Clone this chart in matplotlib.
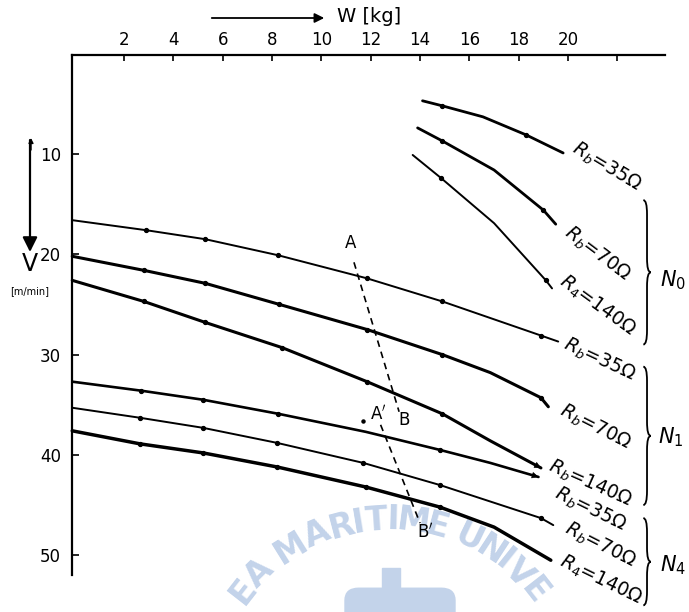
import numpy as np
import matplotlib
matplotlib.use("Agg")
import matplotlib.pyplot as plt
from matplotlib.path import Path
from matplotlib.patches import PathPatch, Rectangle, FancyBboxPatch
from matplotlib.font_manager import FontProperties
from matplotlib.textpath import TextPath

# W [kg] / V [m/min]
# group N0 (short curves, upper right)
w_n0_35 = [14.1, 14.9, 16.55, 18.3, 19.8]
v_n0_35 = [4.7, 5.2, 6.3, 8.1, 9.9]
w_n0_70 = [13.9, 14.9, 17.0, 19.0, 19.5]
v_n0_70 = [7.4, 8.7, 11.6, 15.6, 17.0]
w_n0_140 = [13.7, 14.85, 17.0, 19.1, 19.35]
v_n0_140 = [10.1, 12.4, 16.9, 22.6, 23.4]

# group N1
w_n1_35 = [-0.1, 2.9, 5.3, 8.25, 11.85, 14.9, 18.9, 19.6]
v_n1_35 = [16.6, 17.6, 18.5, 20.1, 22.4, 24.7, 28.1, 28.7]
w_n1_70 = [-0.1, 2.8, 5.3, 8.3, 11.85, 14.9, 16.85, 18.9, 19.2]
v_n1_70 = [20.2, 21.6, 22.9, 25.0, 27.5, 30.0, 31.8, 34.3, 35.2]
w_n1_140 = [-0.1, 2.8, 5.3, 8.4, 11.85, 14.9, 16.85, 18.9]
v_n1_140 = [22.6, 24.7, 26.8, 29.3, 32.7, 35.9, 38.6, 41.3]

# group N4
w_n4_35 = [-0.1, 2.7, 5.2, 8.25, 11.8, 14.8, 16.85, 18.8]
v_n4_35 = [32.7, 33.6, 34.5, 35.9, 37.7, 39.5, 40.8, 42.2]
w_n4_70 = [-0.1, 2.65, 5.2, 8.2, 11.7, 14.8, 18.9, 19.4]
v_n4_70 = [35.3, 36.3, 37.3, 38.8, 40.8, 43.0, 46.3, 47.0]
w_n4_140 = [-0.1, 2.65, 5.2, 8.2, 11.8, 14.8, 17.0, 19.3]
v_n4_140 = [37.6, 38.9, 39.8, 41.2, 43.2, 45.2, 47.2, 50.5]

# dashed construction lines
w_ab = [11.32, 13.15]
v_ab = [20.8, 35.7]
w_ab2 = [12.4, 14.0]
v_ab2 = [37.0, 46.8]

x_ticks = [2, 4, 6, 8, 10, 12, 14, 16, 18, 20, 22]
x_ticklabels = ["2", "4", "6", "8", "10", "12", "14", "16", "18", "20", ""]
y_ticks = [10, 20, 30, 40, 50]

fig = plt.figure(figsize=(6.89, 6.12), dpi=100)

# faint watermark behind the chart, letters spaced by their own widths along an arc
wm_color = "#c3d3ea"
wm_text = "EA MARITIME UNIVE"
wm_font = FontProperties(family="DejaVu Sans", weight="bold", size=24)
widths = []
for ch in wm_text:
    if ch == " ":
        widths.append(9.0)
    else:
        widths.append(TextPath((0, 0), ch, prop=wm_font).get_extents().width + 3)
widths = np.array(widths)
centers = np.cumsum(widths) - widths / 2
centers = centers - centers[0]
angles = 142 - 104 * centers / centers[-1]
for ch, a in zip(wm_text, angles):
    ang = np.radians(a)
    px = 389 + 185 * np.cos(ang)
    py = 705 - 185 * np.sin(ang)
    fig.text(px / 689, 1 - py / 612, ch, rotation=a - 90, ha="center", va="center",
             fontproperties=wm_font, color=wm_color, zorder=-5)
fig.add_artist(Rectangle((382 / 689, 0), 18 / 689, 44 / 612, color=wm_color,
                         transform=fig.transFigure, zorder=-5))
fig.add_artist(FancyBboxPatch((345 / 689, -0.02), 110 / 689, 36 / 612,
                              boxstyle="round,pad=0,rounding_size=0.02",
                              color=wm_color, transform=fig.transFigure, zorder=-5))

ax = fig.add_axes([0.1045, 0.0605, 0.8607, 0.8497])
ax.set_facecolor("none")
ax.set_xlim(-0.11, 23.93)
ax.set_ylim(51.97, 0.13)
for s in ["right", "bottom"]:
    ax.spines[s].set_visible(False)
for s in ["top", "left"]:
    ax.spines[s].set_linewidth(1.6)

ax.xaxis.tick_top()
ax.set_xticks(x_ticks)
ax.set_xticklabels(x_ticklabels)
ax.set_yticks(y_ticks)
ax.tick_params(axis="x", direction="in", length=4, width=1.2, pad=4, labelsize=12)
ax.tick_params(axis="y", direction="in", length=5, width=1.2, pad=8, labelsize=12)

curves = [
    (w_n0_35, v_n0_35, [1, 3], 2.0),
    (w_n0_70, v_n0_70, [1, 3], 2.0),
    (w_n0_140, v_n0_140, [1, 3], 1.4),
    (w_n1_35, v_n1_35, [1, 2, 3, 4, 5, 6], 1.4),
    (w_n1_70, v_n1_70, [1, 2, 3, 4, 5, 7], 2.2),
    (w_n1_140, v_n1_140, [1, 2, 3, 4, 5], 2.2),
    (w_n4_35, v_n4_35, [1, 2, 3, 5], 1.9),
    (w_n4_70, v_n4_70, [1, 2, 3, 4, 5, 6], 1.4),
    (w_n4_140, v_n4_140, [1, 2, 3, 4, 5], 2.5),
]
for w, v, dots, lw in curves:
    w = np.array(w)
    v = np.array(v)
    ax.plot(w, v, color="k", lw=lw, solid_capstyle="round", clip_on=False)
    ax.plot(w[dots], v[dots], "o", ms=2.8, color="k")

# small arrow heads at the ends of two N1/N4 curves
for w, v in [(w_n1_140, v_n1_140), (w_n4_35, v_n4_35)]:
    ax.annotate("", xy=(w[-1], v[-1]), xytext=(w[-2], v[-2]),
                arrowprops=dict(arrowstyle="-|>", mutation_scale=10, color="k",
                                lw=0.5, shrinkA=0, shrinkB=0))

ax.plot(w_ab, v_ab, color="k", lw=1.2, ls=(0, (4, 3)))
ax.plot(w_ab2, v_ab2, color="k", lw=1.2, ls=(0, (4, 3)))
ax.plot([11.7], [36.6], "o", ms=2.2, color="k")
ax.text(11.2, 18.9, "A", fontsize=12, ha="center", va="center")
ax.text(13.36, 36.5, "B", fontsize=12, ha="center", va="center")
ax.text(12.3, 35.9, "A$'$", fontsize=12, ha="center", va="center")
ax.text(14.2, 47.7, "B$'$", fontsize=12, ha="center", va="center")

# curve labels
labels = [
    (21.57, 11.3, r"$R_b$=35Ω", -31),
    (21.17, 19.9, r"$R_b$=70Ω", -37),
    (21.17, 25.1, r"$R_4$=140Ω", -36),
    (21.29, 30.5, r"$R_b$=35Ω", -25),
    (21.09, 37.2, r"$R_b$=70Ω", -27),
    (20.89, 42.8, r"$R_b$=140Ω", -24),
    (20.89, 45.4, r"$R_b$=35Ω", -26),
    (21.29, 49.0, r"$R_b$=70Ω", -27),
    (21.33, 52.5, r"$R_4$=140Ω", -26),
]
for x, y, t, rot in labels:
    ax.text(x, y, t, rotation=rot, ha="center", va="center", fontsize=13.5,
            rotation_mode="anchor")


def draw_brace(ax, x, y0, y1, w=0.3, h=1.4):
    ym = (y0 + y1) / 2
    xm = x + w / 2
    verts = [(x, y0), (xm, y0), (xm, y0 + h), (xm, ym - h), (xm, ym), (x + w, ym),
             (xm, ym), (xm, ym + h), (xm, y1 - h), (xm, y1), (x, y1)]
    codes = [Path.MOVETO, Path.CURVE3, Path.CURVE3, Path.LINETO, Path.CURVE3,
             Path.CURVE3, Path.CURVE3, Path.CURVE3, Path.LINETO, Path.CURVE3,
             Path.CURVE3]
    ax.add_patch(PathPatch(Path(verts, codes), fill=False, lw=1.3, clip_on=False))


draw_brace(ax, 23.05, 14.6, 29.0)
draw_brace(ax, 23.05, 31.2, 45.0)
draw_brace(ax, 23.05, 46.3, 55.0)
ax.text(24.25, 22.6, "$N_0$", fontsize=15, ha="center", va="center")
ax.text(24.15, 38.2, "$N_1$", fontsize=15, ha="center", va="center")
ax.text(24.25, 51.0, "$N_4$", fontsize=15, ha="center", va="center")

# axis titles with arrows
fig.text(337 / 689, 1 - 16 / 612, "W [kg]", fontsize=14, va="center")
ax.annotate("", xy=(327 / 689, 1 - 18 / 612), xytext=(209 / 689, 1 - 18 / 612),
            xycoords="figure fraction", textcoords="figure fraction",
            arrowprops=dict(arrowstyle="-|>", mutation_scale=14, lw=1.3, color="k"))
ax.annotate("", xy=(30 / 689, 1 - 252 / 612), xytext=(30 / 689, 1 - 140 / 612),
            xycoords="figure fraction", textcoords="figure fraction",
            arrowprops=dict(arrowstyle="-|>", mutation_scale=22, lw=1.6, color="k",
                            shrinkA=0, shrinkB=0))
ax.annotate("", xy=(31 / 689, 1 - 138 / 612), xytext=(31 / 689, 1 - 150 / 612),
            xycoords="figure fraction", textcoords="figure fraction",
            arrowprops=dict(arrowstyle="-|>", mutation_scale=7, lw=1, color="k",
                            shrinkA=0, shrinkB=0))
fig.text(30 / 689, 1 - 264 / 612, "V", fontsize=17, ha="center", va="center")
fig.text(30 / 689, 1 - 291 / 612, "[m/min]", fontsize=7, ha="center", va="center")

fig.savefig("out.png", dpi=100)
